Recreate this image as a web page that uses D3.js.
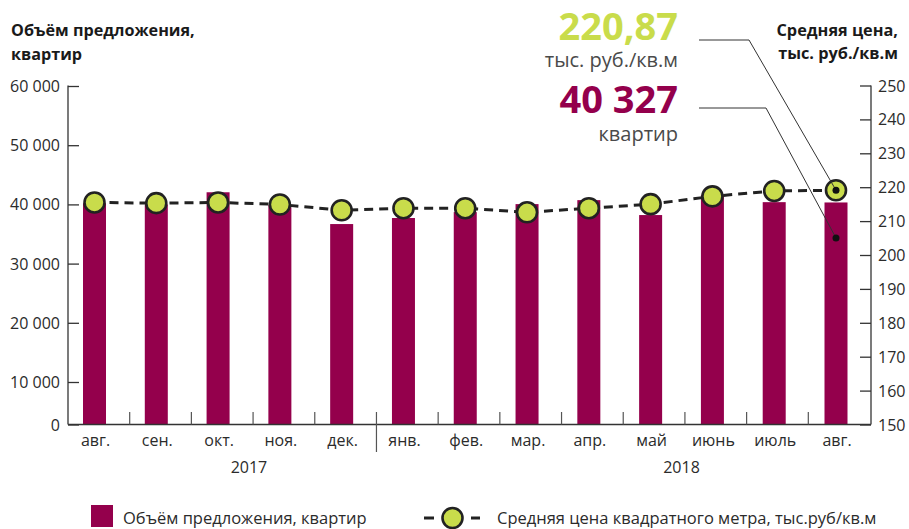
<!DOCTYPE html>
<html lang="ru">
<head>
<meta charset="UTF-8">
<title>Объём предложения и средняя цена</title>
<script src="https://cdn.jsdelivr.net/npm/d3@7/dist/d3.min.js"></script>
<style>
  body { margin: 0; background: #fff; }
  svg text { font-family: "Open Sans", sans-serif; fill: #2b2b2b; }
</style>
</head>
<body>
<div id="chart"></div>
<script>
'use strict';

// data
const months = ['авг.', 'сен.', 'окт.', 'ноя.', 'дек.', 'янв.', 'фев.', 'мар.', 'апр.', 'май', 'июнь', 'июль', 'авг.'];
const years = ['2017', '2018'];
const supply = [40200, 40000, 42050, 39900, 36680, 37700, 38700, 40050, 40720, 38200, 41570, 40380, 40327];
const price = [215.5, 215.3, 215.5, 214.9, 213.2, 213.8, 213.8, 212.6, 213.8, 215.0, 217.3, 218.9, 219.1];
const leftTicks = [0, 10000, 20000, 30000, 40000, 50000, 60000];
const rightTicks = [150, 160, 170, 180, 190, 200, 210, 220, 230, 240, 250];

const W = 909, H = 529;
const maroon = '#94004c', lime = '#c9dc4b', ink = '#222';

const svg = d3.select('#chart').append('svg').attr('width', W).attr('height', H);

// month slots (separators) and the mark positions, which sit a bit left of slot centres
const x = d3.scaleBand().domain(d3.range(months.length)).range([68, 870]).padding(0);
const cx = d3.scalePoint().domain(d3.range(months.length)).range([94.5, 836]);

// the left axis in the original has a short first step (0 -> 10 000)
const yL = d3.scaleLinear().domain([0, 10000, 60000]).range([424.5, 382, 86]);
const yR = d3.scaleLinear().domain([150, 250]).range([424.5, 85.5]);

const fmt = v => d3.format(',')(v).replace(/,/g, ' ');

// bars
svg.selectAll('rect.bar').data(supply).enter().append('rect')
  .attr('class', 'bar')
  .attr('x', (d, i) => cx(i) - 11.5)
  .attr('width', 23)
  .attr('y', d => yL(d))
  .attr('height', d => yL(0) - yL(d))
  .attr('fill', maroon);

// left axis
const gL = svg.append('g').attr('transform', 'translate(68,0)')
  .call(d3.axisRight(yL).tickValues(leftTicks).tickSize(11).tickFormat(''));
gL.select('.domain').attr('d', `M0,${yR(250)}V${yL(0)}`);
gL.selectAll('line, path').attr('stroke', '#333').attr('stroke-width', 1.3);
svg.selectAll('text.ltick').data(leftTicks).enter().append('text')
  .attr('class', 'ltick')
  .attr('x', 60).attr('y', d => yL(d) + 6)
  .attr('text-anchor', 'end').attr('font-size', 16)
  .text(fmt);

// right axis
const gR = svg.append('g').attr('transform', 'translate(871,0)')
  .call(d3.axisLeft(yR).tickValues(rightTicks).tickSize(11).tickFormat(''));
gR.select('.domain').attr('d', `M0,${yR(250)}V${yR(150)}`);
gR.selectAll('line, path').attr('stroke', '#333').attr('stroke-width', 1.3);
svg.selectAll('text.rtick').data(rightTicks).enter().append('text')
  .attr('class', 'rtick')
  .attr('x', 878).attr('y', d => yR(d) + 6)
  .attr('font-size', 16)
  .text(d => d);

// baseline and month separators
svg.append('line').attr('x1', 68).attr('x2', 871).attr('y1', yL(0)).attr('y2', yL(0))
  .attr('stroke', '#333').attr('stroke-width', 1.3);
svg.selectAll('line.sep').data(d3.range(1, months.length)).enter().append('line')
  .attr('class', 'sep')
  .attr('x1', d => x(d)).attr('x2', d => x(d))
  .attr('y1', 412).attr('y2', d => d === 5 ? 452 : yL(0))
  .attr('stroke', '#555').attr('stroke-width', 1.2);

svg.selectAll('text.month').data(months).enter().append('text')
  .attr('class', 'month')
  .attr('x', (d, i) => cx(i) + 1).attr('y', 446)
  .attr('text-anchor', 'middle').attr('font-size', 16)
  .text(d => d);

// year captions
const yearAt = [(cx(2) + cx(3)) / 2, (cx(9) + cx(10)) / 2];
svg.selectAll('text.year').data(years).enter().append('text')
  .attr('class', 'year')
  .attr('x', (d, i) => yearAt[i]).attr('y', 473)
  .attr('text-anchor', 'middle').attr('font-size', 16)
  .text(d => d);

// price line
const line = d3.line().x((d, i) => cx(i)).y(d => yR(d));
svg.append('path').datum(price)
  .attr('d', line)
  .attr('fill', 'none').attr('stroke', ink)
  .attr('stroke-width', 3).attr('stroke-dasharray', '9,6');

svg.selectAll('circle.pt').data(price).enter().append('circle')
  .attr('class', 'pt')
  .attr('cx', (d, i) => cx(i)).attr('cy', d => yR(d))
  .attr('r', 10).attr('fill', lime)
  .attr('stroke', ink).attr('stroke-width', 2.6);

// axis titles
const titleL = ['Объём предложения,', 'квартир'];
svg.selectAll('text.tl').data(titleL).enter().append('text')
  .attr('class', 'tl')
  .attr('x', 11).attr('y', (d, i) => 36 + i * 24)
  .attr('font-size', 16.2).attr('font-weight', 700).style('fill', '#1a1a1a')
  .text(d => d);
const titleR = ['Средняя цена,', 'тыс. руб./кв.м'];
svg.selectAll('text.tr').data(titleR).enter().append('text')
  .attr('class', 'tr')
  .attr('x', 898).attr('y', (d, i) => 36 + i * 23)
  .attr('text-anchor', 'end')
  .attr('font-size', 16.3).attr('font-weight', 700).style('fill', '#1a1a1a')
  .text(d => d);

// callouts for the last month
const last = months.length - 1;
svg.append('text').attr('x', 678).attr('y', 40)
  .attr('text-anchor', 'end').attr('font-size', 38).attr('font-weight', 700)
  .style('fill', lime)
  .text(d3.format('.2f')(220.87).replace('.', ','));
svg.append('text').attr('x', 678).attr('y', 67)
  .attr('text-anchor', 'end').attr('font-size', 20).style('fill', '#4a4a4a')
  .text('тыс. руб./кв.м');
svg.append('text').attr('x', 678).attr('y', 113)
  .attr('text-anchor', 'end').attr('font-size', 38).attr('font-weight', 700)
  .style('fill', maroon)
  .text(fmt(supply[last]));
svg.append('text').attr('x', 678).attr('y', 141)
  .attr('text-anchor', 'end').attr('font-size', 20).style('fill', '#4a4a4a')
  .text('квартир');

const p1 = [cx(last), yR(price[last])];
const p2 = [cx(last), 238];
svg.append('path')
  .attr('d', `M699,40H749L${p1[0]},${p1[1]}`)
  .attr('fill', 'none').attr('stroke', '#333').attr('stroke-width', 1);
svg.append('path')
  .attr('d', `M699,108H766L${p2[0]},${p2[1]}`)
  .attr('fill', 'none').attr('stroke', '#333').attr('stroke-width', 1);
svg.append('circle').attr('cx', p1[0]).attr('cy', p1[1]).attr('r', 3.5).attr('fill', '#111');
svg.append('circle').attr('cx', p2[0]).attr('cy', p2[1]).attr('r', 3.5).attr('fill', '#111');

// legend
svg.append('rect').attr('x', 91).attr('y', 505).attr('width', 22).attr('height', 22).attr('fill', maroon);
svg.append('text').attr('x', 123).attr('y', 524).attr('font-size', 16.5)
  .text('Объём предложения, квартир');
svg.append('path').attr('d', 'M424,518H434M471,518H480')
  .attr('stroke', ink).attr('stroke-width', 3);
svg.append('circle').attr('cx', 452.5).attr('cy', 518).attr('r', 10)
  .attr('fill', lime).attr('stroke', ink).attr('stroke-width', 2.6);
svg.append('text').attr('x', 497).attr('y', 524).attr('font-size', 16.5)
  .text('Средняя цена квадратного метра, тыс.руб/кв.м');
</script>
</body>
</html>
